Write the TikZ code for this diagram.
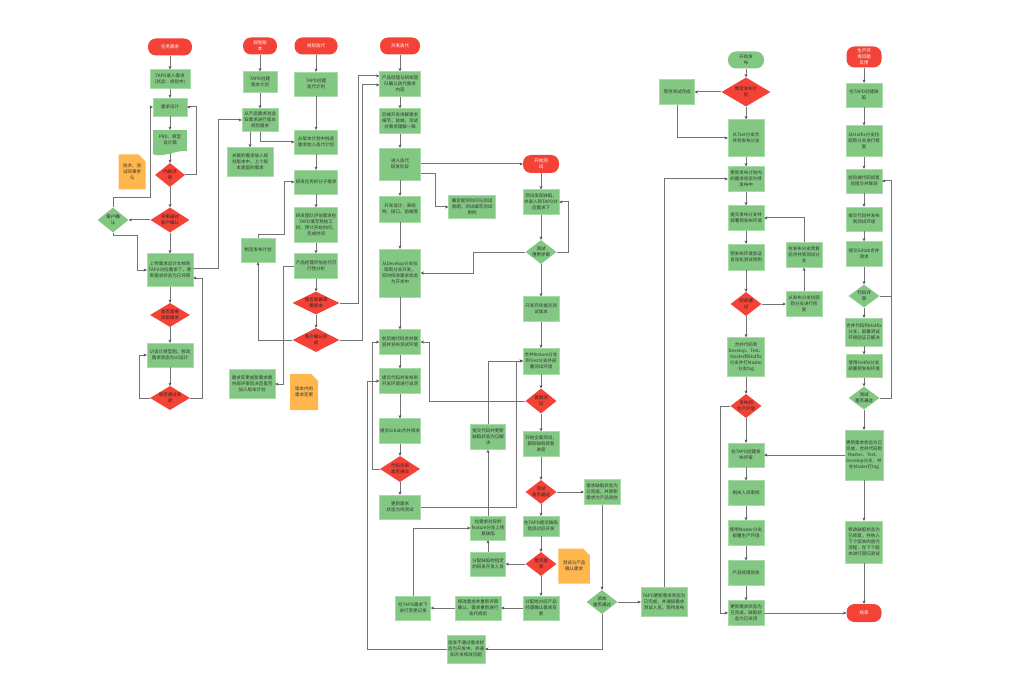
\documentclass[tikz,border=0pt]{standalone}
\usepackage{fontspec}
\newfontfamily\cjk{Noto Sans CJK SC}
\usetikzlibrary{shapes.geometric,shapes.misc,arrows.meta,calc}

\definecolor{boxgreen}{HTML}{82C882}
\definecolor{boxedge}{HTML}{A9DBA9}
\definecolor{flowred}{HTML}{F44336}
\definecolor{noteorange}{HTML}{FFB74D}
\definecolor{linegray}{HTML}{737373}

\begin{document}
\begin{tikzpicture}[x=1pt, y=-1pt,
every node/.style={font=\cjk\fontsize{4.5}{6}\selectfont, align=center},
sz/.style 2 args={minimum width=#1pt, minimum height=#2pt},
proc/.style={rectangle, draw=boxedge, fill=boxgreen, text=black!80, inner sep=0.5pt},
term/.style={rectangle, rounded corners=8pt, fill=flowred, text=white, inner sep=0.5pt},
gterm/.style={term, fill=boxgreen, text=black!80},
dec/.style={diamond, fill=flowred, text=black!85, inner sep=-3pt},
gdec/.style={dec, fill=boxgreen},
memo/.style={chamfered rectangle, chamfered rectangle corners=north east, chamfered rectangle xsep=4pt, fill=noteorange, text=black!80, inner sep=0.5pt},
arr/.style={draw=linegray, line width=1pt, -{Stealth[length=3.2pt,width=3pt,color=black!70]}},
link/.style={draw=linegray, line width=1pt}]
\fill[white] (0,0) rectangle (1020,695);
\useasboundingbox (0,0) rectangle (1020,695);

% requirements
\node[term, sz={44}{17}] (task) at (170,47) {任务需求};
\node[proc, sz={40}{19}] (tapdIn) at (170,79) {TAPD录入需求\\(状态：规划中)};
\node[proc, sz={34}{18}] (design) at (170,107) {需求设计};
\node[proc, draw=none, sz={34}{20}] (prd) at (170,140) {PRD、原型\\设计稿};
\fill[boxgreen] (prd.south west) -- ++(0,4) .. controls +(10,4) and +(-9,-2) .. ($(prd.south east)+(0,1)$) -- (prd.south east) -- cycle;
\node[dec, sz={30}{24}] (inReview) at (170,175) {内部评\\审};
\node[dec, sz={39}{25}] (custRev) at (170,220) {评审通过\\客户确认};
\node[gdec, sz={31}{25}] (custOk) at (113,220) {客户确\\认};
\node[memo, sz={27}{35}] (noteTech) at (132,172) {技术、测\\试同事参\\与};
\node[proc, sz={46}{33}] (upload) at (170,270) {上传需求设计文档到\\TAPD对应需求下，更\\新需求状态为已评审};
\node[dec, sz={40}{24}] (revise) at (170,315) {是否需要\\改版需求};
\node[proc, sz={46}{24}] (uiDesign) at (170,355) {UI设计原型图，修改\\需求状态为UI设计};
\node[dec, sz={40}{24}] (accept) at (170,398) {是否通过验\\收};

% versions
\node[term, sz={34}{17}] (plan) at (260,46) {规划版\\本};
\node[proc, sz={34}{21}] (planTapd) at (260,82) {TAPD创建\\版本计划};
\node[proc, sz={36}{23}] (pickReq) at (260,120) {从产品需求池选\\取需求进行版本\\规划需求};
\node[proc, sz={46}{29}] (linkReq) at (250,162) {关联的需求放入规\\划版本中，上个版\\本遗留的需求};
\node[proc, sz={34}{24}] (relPlan) at (258,250) {制定发布计划};
\node[proc, sz={46}{29}] (reqChange) at (252,384) {需求变更或新需求需\\内部评审后决定是否\\加入版本计划};
\node[memo, sz={28}{36}] (noteChange) at (304,392) {版本内的\\需求变更};

\node[term, sz={43}{17}] (iter) at (316,46) {规划迭代};
\node[proc, sz={43}{24}] (iterTapd) at (316,84) {TAPD创建\\迭代计划};
\node[proc, sz={43}{24}] (pickIter) at (316,142) {从版本计划中挑选\\需求放入迭代计划};
\node[proc, sz={43}{24}] (split) at (316,182) {研发任务拆分子需求};
\node[proc, sz={43}{35}] (estimate) at (316,225) {研发团队评估需求在\\TAPD填写预估工\\时、预计开始时间、\\完成时间};
\node[proc, sz={43}{25}] (pmCheck) at (316,266) {产品经理评估迭代可\\行性分析};
\node[dec, sz={47}{23}] (adjust) at (316,303) {是否需要调\\整版本};
\node[dec, sz={47}{24}] (custIter) at (316,340) {客户确认完\\成};

% development and test
\node[term, sz={40}{17}] (dev) at (400,46) {开发迭代};
\node[proc, sz={41}{25}] (devConfirm) at (400,84) {产品经理与研发团\\队确认迭代需求\\内容};
\node[proc, sz={41}{25}] (explain) at (400,121) {后端开发讲解需求\\细节，前端、测试\\对需求理解一致};
\node[proc, sz={41}{32}] (enterIter) at (400,164) {进入迭代\\研发阶段};
\node[proc, sz={41}{26}] (devDesign) at (400,209) {开发设计、表结\\构、接口、前端等};
\node[proc, sz={41}{48}] (devBranch) at (400,273) {从Develop分支拉\\取新分支开发，\\同时修改需求状态\\为开发中};
\node[proc, sz={41}{25}] (codeMerge) at (400,342) {前后端代码合并联\\调并发布测试环境};
\node[proc, sz={41}{25}] (commitDev) at (400,381) {提交代码并发布到\\开发环境进行自测};
\node[proc, sz={41}{25}] (gitlabMR) at (400,431) {提交Gitlab合并请求};
\node[dec, sz={40}{26}] (cr) at (400,469) {代码评审\\是否通过};
\node[proc, sz={41}{24}] (toTest) at (400,507) {更新需求\\状态为待测试};
\node[proc, sz={47}{23}] (testPlan) at (472,207) {确定提测时间与测试\\周期，测试编写测试\\用例};

\node[term, sz={36}{18}] (testStart) at (541,164) {开始测\\试};
\node[proc, sz={36}{25}] (bugFound) at (541,202) {测试发现缺陷，\\并录入到TAPD对\\应需求下};
\node[gdec, sz={31}{24}] (testPass1) at (541,252) {测试\\用例评审};
\node[proc, sz={36}{25}] (devDone) at (541,309) {开发完毕提交测\\试版本};
\node[proc, sz={36}{26}] (mergeFeature) at (541,361) {合并feature分支\\到Test分支并部\\署测试环境};
\node[dec, sz={31}{25}] (smoke) at (541,401) {冒烟测\\试};
\node[proc, sz={36}{25}] (fullTest) at (541,444) {开始全面测试，\\跟踪缺陷修复\\进度};
\node[dec, sz={31}{24}] (testPass2) at (541,492) {测试\\是否通过};
\node[proc, sz={36}{20}] (bugSubmit) at (541,526) {在TAPD提交缺陷\\指派对应开发};
\node[dec, sz={31}{24}] (isReq) at (541,564) {是否需\\求};
\node[proc, sz={36}{24}] (toPM) at (541,608) {分配给对应产品\\经理确认需求变\\更};
\node[proc, sz={46}{24}] (reqModify) at (478,608) {修改需求并重新评审\\确认，需求重新进行\\迭代规划};
\node[proc, sz={35}{24}] (reqRecord) at (413,608) {在TAPD需求下\\进行变更记录};
\node[proc, sz={35}{24}] (fixFeature) at (488,528) {在需求对应的\\feature分支上修\\复缺陷};
\node[proc, sz={35}{24}] (assignBug) at (488,564) {分配缺陷给指定\\的研发开发人员};
\node[proc, sz={35}{25}] (commitFix) at (488,437) {提交代码并更新\\缺陷状态为已解\\决};
\node[memo, sz={28}{35}] (noteReq) at (574,566) {测试与产品\\确认需求};
\node[proc, sz={36}{25}] (bugDone) at (602,492) {需求缺陷状态为\\已完成，并更新\\需求为产品验收};
\node[gdec, sz={31}{24}] (accept2) at (602,602) {验收\\是否通过};
\node[proc, sz={38}{28}] (rejectBack) at (466,649) {验收不通过需求状\\态为开发中，并通\\知开发修改问题};

% release
\node[gterm, sz={36}{17}] (relStart) at (746,60) {开始发\\布};
\node[dec, sz={49}{29}] (relPlanD) at (746,92) {制定发布计\\划};
\node[proc, sz={35}{25}] (waitTest) at (677,92) {等待测试完成};
\node[proc, sz={36}{37}] (mergeRel) at (746,138) {从Test分支合\\并到发布分支};
\node[proc, sz={36}{25}] (updPlan) at (746,179) {更新发布计划内\\的需求状态为待\\发布中};
\node[proc, sz={36}{25}] (commitRel) at (746,218) {提交发布分支并\\部署预发布环境};
\node[proc, sz={36}{26}] (preVerify) at (746,257) {预发布环境验证\\自动化测试用例};
\node[proc, sz={36}{25}] (fixRel) at (804,255) {在发布分支修复\\后合并到测试分\\支};
\node[dec, sz={31}{24}] (passRel) at (746,304) {验收通\\过};
\node[proc, sz={36}{25}] (pullRel) at (804,304) {从发布分支拉取\\新分支进行修\\复};
\node[proc, sz={37}{39}] (mergeAll) at (746,357) {合并代码到\\Develop、Test、\\Master和Hotfix\\分支并打Master\\分支tag};
\node[dec, sz={31}{24}] (toProd) at (746,406) {发布到\\生产环境};
\node[proc, sz={36}{24}] (prodReview) at (746,455) {在TAPD创建发\\布评审};
\node[proc, sz={36}{25}] (approve) at (746,493) {相关人员审批};
\node[proc, sz={36}{25}] (deployMaster) at (746,533) {使用Master分支\\部署生产环境};
\node[proc, sz={36}{25}] (pmAccept) at (746,573) {产品经理验收};
\node[proc, sz={36}{25}] (closeAll) at (746,613) {更新需求状态为\\已完成，缺陷状\\态为已关闭};
\node[proc, sz={46}{29}] (tapdUpdate) at (664,602) {TAPD更新需求状态为\\已完成，并通知需求\\测试人员，等待发布};

% hotfix
\node[term, sz={35}{21}] (prodBug) at (864,57) {生产环\\境问题\\反馈};
\node[proc, sz={36}{24}] (hfBug) at (864,95) {在TAPD创建缺\\陷};
\node[proc, sz={36}{31}] (hfBranch) at (864,141) {从Hotfix分支拉\\取新分支进行修\\复};
\node[proc, sz={36}{24}] (hfFix) at (864,181) {前后端代码修复\\后提交并联调};
\node[proc, sz={36}{24}] (hfCommit) at (864,219) {提交代码并发布\\到测试环境};
\node[proc, sz={36}{25}] (hfMR) at (864,254) {提交Gitlab合并\\请求};
\node[gdec, sz={31}{23}] (hfCR) at (864,296) {代码评\\审};
\node[proc, sz={37}{28}] (hfMerge) at (864,332) {合并代码到Hotfix\\分支，部署测试\\环境验证已解决};
\node[proc, sz={36}{23}] (hfPre) at (864,366) {使用Hotfix分支\\部署预发布环境};
\node[gdec, sz={31}{23}] (hfTest) at (864,398) {测试\\是否通过};
\node[proc, sz={38}{50}] (hfDone) at (864,455) {更新需求状态为已\\完成，合并代码到\\Master、Test、\\Develop分支，并\\在Master打tag};
\node[proc, sz={37}{42}] (hfNext) at (864,542) {修改缺陷状态为\\已修复，并纳入\\下个版本的迭代\\流程，在下个版\\本进行回归测试};
\node[term, sz={35}{18}] (finish) at (864,613) {结束};

% straight runs
\foreach \a/\b in {task/tapdIn, tapdIn/design, design/prd, inReview/custRev, custRev/upload, upload/revise, revise/uiDesign, uiDesign/accept,
  plan/planTapd, planTapd/pickReq, iter/iterTapd, iterTapd/pickIter, pickIter/split, split/estimate, estimate/pmCheck, pmCheck/adjust, adjust/custIter,
  dev/devConfirm, devConfirm/explain, explain/enterIter, enterIter/devDesign, devDesign/devBranch, devBranch/codeMerge, codeMerge/commitDev, commitDev/gitlabMR, gitlabMR/cr, cr/toTest,
  testStart/bugFound, bugFound/testPass1, testPass1/devDone, devDone/mergeFeature, mergeFeature/smoke, smoke/fullTest, fullTest/testPass2, testPass2/bugSubmit, bugSubmit/isReq, isReq/toPM,
  relStart/relPlanD, relPlanD/mergeRel, mergeRel/updPlan, updPlan/commitRel, commitRel/preVerify, preVerify/passRel, passRel/mergeAll, mergeAll/toProd, toProd/prodReview, prodReview/approve, approve/deployMaster, deployMaster/pmAccept, pmAccept/closeAll,
  prodBug/hfBug, hfBug/hfBranch, hfBranch/hfFix, hfFix/hfCommit, hfCommit/hfMR, hfMR/hfCR, hfCR/hfMerge, hfMerge/hfPre, hfPre/hfTest, hfTest/hfDone, hfDone/hfNext, hfNext/finish}
  \draw[arr] (\a) -- (\b);
\draw[arr] ($(prd.south)+(0,3)$) -- (inReview);

% loops and side branches
\draw[arr] (inReview.east) -- (196,175) |- (design.east);
\draw[arr] (custRev.west) -- (custOk.east);
\draw[arr] (custOk.north) |- (150,198) |- (design.west);
\draw[arr] (custOk.south) |- (137,236) |- (upload.west);
\draw[arr] (accept.west) -- (139,398) |- (uiDesign.west);
\draw[arr] (accept.east) -- (202,398) |- ($(upload.east)+(0,8)$);
\draw[arr] ($(upload.east)+(0,-2)$) -- (218,268) |- (pickReq.west);

\draw[arr] (pickReq.south -| linkReq.north) -- (linkReq.north);
\draw[arr] (pickReq.south) |- (pickIter.west);
\draw[arr] (custIter.west) -| (relPlan.south);
\draw[arr] (relPlan.north) |- (284,235) |- (split.west);
\draw[arr] (pmCheck.west) -- (283,266) |- (reqChange.east);
\draw[arr] (adjust.east) -- (358,303) |- ($(devConfirm.west)+(0,-8)$);
\draw[arr] (custIter.east) -- (362,340) |- ($(devConfirm.west)+(0,1)$);

\draw[arr] (enterIter.east) -- (testStart.west);
\draw[arr] ($(enterIter.east)+(0,10)$) -- (435,174) |- (testPlan.west);
\draw[arr] (testPass1.east) -- (568,252) |- (bugFound.east);
\draw[arr] (testPass1.west) -- (473,252) |- (devBranch.east);
\draw[arr] (smoke.west) -- (429,401) |- (codeMerge.east);
\draw[arr] (cr.west) -- (372,469) |- (codeMerge.west);
\draw[arr] (rejectBack.west) -- (367,649) |- (commitDev.west);
\draw[arr] (toTest.east) -- (516,507) |- (mergeFeature.west);
\draw[arr] (commitFix.north) |- (mergeFeature.west);
\draw[arr] (fixFeature) -- (commitFix);
\draw[arr] (assignBug) -- (fixFeature);
\draw[arr] (isReq) -- (assignBug);
\draw[arr] (toPM) -- (reqModify);
\draw[arr] (reqModify) -- (reqRecord);
\draw[arr] (reqRecord.north) |- (fixFeature.west);
\draw[arr] (testPass2) -- (bugDone);
\draw[arr] (bugDone) -- (accept2);
\draw[arr] (accept2.south) |- (rejectBack.east);
\draw[arr] (accept2.east) -- (tapdUpdate.west);
\draw[arr] (tapdUpdate.north) |- (updPlan.west);

\draw[arr] (relPlanD) -- (waitTest);
\draw[arr] (waitTest.south) |- (mergeRel.west);
\draw[arr] (passRel) -- (pullRel);
\draw[arr] (pullRel) -- (fixRel);
\draw[arr] (fixRel.north) |- (commitRel.east);
\draw[arr] (toProd.west) -- (720,406) |- (closeAll.west);
\draw[arr] (hfDone.west) -- (prodReview.east);
\draw[arr] (closeAll) -- (finish);

\draw[arr] (hfCR.east) -- (891,296) |- (hfFix.east);
\draw[link] (hfTest.east) -| (891,296);
\end{tikzpicture}
\end{document}
